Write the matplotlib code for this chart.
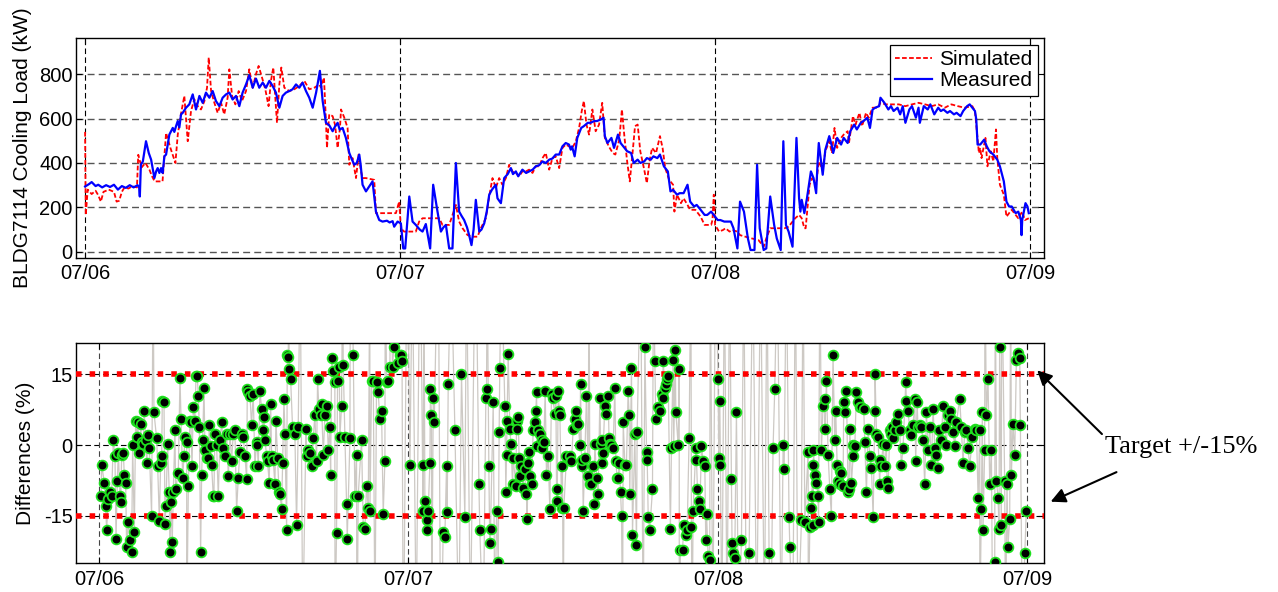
import numpy as np
import matplotlib
matplotlib.use("Agg")
import matplotlib.pyplot as plt

plt.rcParams['font.family'] = ['Liberation Sans', 'DejaVu Sans']
plt.rcParams['axes.unicode_minus'] = False

# ---------------- data ----------------
day_ticks = [0, 24, 48, 72]
day_labels = ['07/06', '07/07', '07/08', '07/09']
load_ticks = [0, 200, 400, 600, 800]
diff_ticks = [-15, 0, 15]
diff_tick_labels = ['-15', '0', '15']
target_band = [-15, 15]

# Measured cooling load (hours since 07/06 00:00, kW)
meas_h = [0.0,0.3,0.5,0.8,1.0,1.3,1.6,1.9,2.2,2.5,2.8,3.1,3.4,3.7,4.0,4.12,4.17,4.25,4.4,4.64,4.85,5.03,5.28,5.41,5.53,5.66,5.79,5.91,6.04,6.17,6.42,6.68,6.8,6.93,7.06,7.18,7.31,7.44,7.69,7.94,8.2,8.45,8.71,8.96,9.21,9.47,9.72,9.97,10.23,10.48,10.74,10.99,11.24,11.5,11.75,12.0,12.26,12.51,12.77,13.02,13.27,13.53,13.78,14.04,14.29,14.54,14.8,15.05,15.3,15.56,15.81,16.07,16.32,16.57,16.83,17.08,17.34,17.6,17.89,
          18.1,18.35,18.6,18.86,19.0,19.24,19.4,19.62,19.87,20.13,20.3,20.51,20.7,20.89,21.0,21.14,21.4,21.6,21.9,22.16,22.41,22.66,23.0,23.2,23.43,23.55,23.81,24.06,24.24,24.39,24.7,24.95,25.2,25.5,25.71,25.96,26.29,26.52,26.85,27.11,27.3,27.49,27.74,27.99,28.25,28.5,28.7,28.88,29.1,29.26,29.44,29.6,29.77,30.03,30.2,30.41,30.6,30.79,31.0,31.29,31.42,31.68,31.93,32.2,32.44,32.6,32.82,33.0,33.32,33.6,33.83,34.1,34.34,34.6,34.85,35.1,35.36,35.6,35.86,
          36.12,36.37,36.62,36.87,37.0,37.1,37.3,37.5,37.8,38.0,38.3,38.5,38.8,39.0,39.3,39.5,39.6,39.8,40.1,40.3,40.6,40.8,41.1,41.3,41.6,41.8,42.1,42.3,42.6,42.8,43.1,43.3,43.6,43.8,44.1,44.4,44.6,44.8,45.1,45.3,45.6,45.9,46.1,46.4,46.6,46.9,47.2,47.4,47.7,47.9,48.2,48.4,48.7,48.9,49.2,49.4,49.7,49.9,50.2,50.5,50.7,51.0,51.2,51.4,51.7,51.9,52.2,52.5,52.7,53.0,53.2,53.4,53.6,53.9,54.2,
          54.4,54.5,54.6,54.8,55.0,55.3,55.5,55.7,55.8,55.9,56.2,56.4,56.7,56.9,57.0,57.3,57.6,57.8,58.1,58.3,58.6,58.8,59.1,59.3,59.6,59.8,60.0,60.2,60.5,60.6,60.9,61.2,61.4,61.6,61.9,62.1,62.3,62.5,62.8,63.0,63.3,63.5,63.6,63.9,64.2,64.4,64.7,65.0,65.2,65.4,65.7,65.9,66.2,66.4,66.7,66.9,67.2,67.4,67.7,67.8,67.9,68.0,68.2,68.5,68.7,68.9,69.2,69.5,69.7,70.0,70.2,70.4,70.6,70.9,71.1,71.3,71.35,71.4,71.65,71.8,71.9]
meas_kw = [294,305,314,296,302,290,300,292,302,280,296,288,300,290,300,290,249,392,407,498,445,415,332,362,377,355,377,355,430,438,528,558,540,566,589,560,619,626,649,664,709,641,702,671,717,694,724,679,656,694,709,717,686,702,656,717,754,795,739,780,739,762,739,770,747,717,649,702,717,724,732,754,739,762,724,694,649,717,815,
           679,581,570,543,560,581,550,558,513,445,420,392,400,438,390,302,272,290,317,181,143,136,140,132,138,113,136,128,15,15,249,136,121,100,91,125,15,302,181,91,110,121,15,15,400,181,160,143,110,75,30,100,234,91,100,128,180,257,280,302,241,219,332,350,377,350,362,340,370,355,362,370,385,390,407,400,415,420,438,
           438,475,490,483,460,475,430,513,558,566,581,581,589,589,596,604,521,490,513,468,528,490,468,453,445,400,415,400,407,422,415,430,422,438,385,362,272,279,257,264,264,302,226,204,211,189,166,166,181,166,143,143,136,136,136,106,15,226,181,60,8,8,392,106,8,15,249,121,60,8,498,121,91,23,513,
           241,181,234,174,241,362,332,264,392,490,347,460,521,475,445,513,483,513,490,543,573,551,581,589,604,558,641,649,656,694,671,641,656,634,649,619,656,581,641,656,604,649,581,656,641,664,619,649,634,641,626,634,619,626,611,634,656,664,641,634,596,483,483,505,475,453,438,415,385,317,226,204,204,174,181,143,75,143,219,204,174]

# Simulated cooling load (hours, kW)
sim_h = [0,0.05,0.2,0.5,0.8,1.0,1.2,1.4,1.8,2.2,2.4,2.6,2.8,3.0,3.3,3.6,3.95,4.05,4.3,4.6,4.9,5.1,5.3,5.9,6.0,6.17,6.5,6.88,7.06,7.3,7.56,7.82,8.07,8.32,8.58,8.83,9.09,9.29,9.42,9.6,9.85,10.1,10.36,10.6,10.86,10.99,11.2,11.45,11.7,11.95,12.26,12.51,12.77,13.02,13.22,13.48,13.73,13.98,14.16,14.34,14.49,14.62,14.8,14.95,15.18,15.56,15.94,16.32,16.7,17.08,17.46,17.84,
         17.97,18.2,18.35,18.43,18.6,18.86,19.04,19.24,19.42,19.5,19.75,20.0,20.13,20.38,20.64,20.84,21.0,21.14,21.4,22.03,22.16,22.66,23.68,23.93,24.06,24.3,25.2,25.45,25.71,26.98,27.23,27.74,28.25,28.5,28.76,29.14,29.52,29.9,30.15,30.53,30.79,31.04,31.29,31.55,31.8,32.06,32.31,32.56,32.82,33.07,33.32,33.58,33.83,34.09,34.34,34.6,34.85,35.1,35.36,35.61,35.86,
         36.12,36.37,36.62,36.87,37.13,37.39,37.64,37.84,38.0,38.2,38.4,38.65,38.9,39.16,39.4,39.6,39.9,40.2,40.4,40.7,40.9,41.1,41.3,41.5,41.7,41.9,42.1,42.3,42.6,42.8,43.0,43.2,43.5,43.8,44.0,44.2,44.5,44.8,44.9,45.1,45.4,45.6,45.9,46.1,46.5,46.9,47.2,47.7,47.8,47.9,48.0,48.3,48.6,48.8,49.1,49.3,49.7,49.9,50.3,50.8,51.3,51.7,51.9,52.2,52.5,53.3,53.6,53.8,54.1,
         54.4,54.6,54.8,54.9,55.2,55.4,55.7,55.9,56.2,56.4,56.7,56.9,57.1,57.3,57.6,57.8,58.1,58.2,58.5,58.7,59.0,59.2,59.5,59.7,60.0,60.4,60.6,61.0,61.5,62.0,62.5,63.0,63.5,64.0,64.5,65.0,65.5,66.0,66.5,67.0,67.6,67.8,68.1,68.2,68.3,68.6,68.75,69.0,69.2,69.4,69.5,69.7,70.0,70.2,70.4,70.6,70.9,71.1,71.4,71.6,71.9]
sim_kw = [540,165,280,260,275,255,226,270,280,270,226,230,270,290,285,295,290,437,380,400,370,340,317,317,400,535,468,400,528,619,702,498,634,687,656,641,679,739,875,724,671,626,671,619,694,822,702,664,724,679,724,822,739,800,837,785,732,656,770,830,694,581,754,830,739,724,732,747,770,732,739,754,
          740,785,589,468,619,611,573,468,558,641,604,558,392,422,332,438,370,332,332,324,174,174,174,226,106,91,91,136,151,151,121,121,211,136,106,75,68,68,106,151,249,332,287,332,302,332,392,362,355,340,362,362,370,355,385,385,422,445,370,422,430,
          377,468,483,475,468,498,558,634,679,573,528,641,543,573,671,513,475,445,438,505,641,513,407,317,438,566,573,453,370,309,407,468,445,521,468,377,324,302,181,257,219,241,211,189,189,158,121,121,143,257,121,91,98,106,91,98,91,75,68,60,53,23,60,106,106,106,113,128,151,
          166,151,106,106,302,332,302,407,370,453,498,445,558,468,513,528,543,490,611,573,626,566,626,604,649,649,671,664,664,664,656,664,671,664,656,664,649,664,656,649,656,634,445,468,422,513,385,453,407,551,422,302,257,158,174,189,166,151,181,143,151]

# Differences between simulated and measured (hours, %)
diff_h = [0.16,0.21,0.41,0.52,0.59,0.72,0.85,0.98,1.11,1.24,1.32,1.42,1.50,1.63,1.68,1.76,1.89,1.96,2.07,2.14,2.27,2.40,2.53,2.61,2.74,2.84,2.92,3.00,3.13,3.23,3.31,3.44,3.49,3.64,3.70,3.82,3.90,4.08,4.26,4.47,4.55,4.68,4.78,4.86,4.91,5.04,5.12,5.19,5.32,5.45,5.50,5.58,5.68,5.76,5.89,5.94,6.15,6.28,6.36,6.49,6.59,6.67,6.80,6.93,7.05,7.13,7.21,7.31,7.44,7.52,7.62,7.70,7.78,7.88,7.96,8.04,8.14,8.22,8.35,8.48,8.55,8.66,8.73,8.86,8.91,8.99,9.12,9.25,9.38,9.51,9.64,9.77,9.90,10.03,10.16,10.28,10.41,10.54,10.67,10.80,10.93,11.06,11.19,11.32,11.45,11.50,11.58,11.71,11.83,11.96,12.09,12.22,12.27,12.35,12.48,12.61,12.69,12.79,12.87,13.00,13.07,13.20,13.31,13.39,13.51,13.64,13.72,13.85,13.96,14.03,14.16,14.24,14.34,14.42,14.55,14.60,14.68,14.75,14.86,15.01,15.19,15.32,15.45,16.05,16.10,16.23,16.36,16.49,16.61,16.74,16.87,16.95,17.05,17.18,17.26,17.39,17.52,17.65,17.78,17.91,17.96,18.04,18.17,18.29,18.42,18.50,18.63,18.68,18.81,18.94,19.07,19.20,19.25,19.46,19.72,19.84,19.97,20.10,20.36,20.49,20.62,20.75,20.88,21.01,21.14,21.27,21.52,21.65,21.78,21.91,22.04,22.17,22.30,22.43,22.56,22.76,22.87,23.20,23.33,23.40,23.50,24.11,
          25.09,25.14,25.27,25.40,25.45,25.53,25.66,25.70,25.78,25.92,26.00,26.69,26.82,26.95,27.00,27.08,27.60,28.11,28.37,29.46,29.53,30.00,30.05,30.23,30.30,30.36,30.57,30.83,30.96,31.03,31.08,31.47,31.55,31.60,31.65,31.73,31.86,31.94,32.07,32.12,32.33,32.38,32.43,32.51,32.58,32.64,32.76,32.89,33.02,33.15,33.20,33.28,33.36,33.46,33.54,33.67,33.80,33.88,33.93,33.98,34.06,34.19,34.32,34.39,34.50,34.60,34.70,34.83,34.96,35.09,35.17,35.35,35.43,35.48,35.53,35.61,35.69,35.74,35.87,35.94,36.05,36.25,36.51,36.64,36.77,36.90,36.98,37.03,37.16,37.29,37.34,37.42,37.49,37.55,37.67,37.80,37.93,38.06,38.19,38.27,38.37,38.45,38.58,38.71,38.84,38.89,38.97,39.04,39.09,39.22,39.35,39.48,39.55,39.66,39.74,39.87,40.00,40.08,40.18,40.26,40.34,40.44,40.52,40.65,40.78,40.90,41.03,41.11,41.16,41.29,41.37,41.55,41.68,41.73,42.33,42.46,42.51,42.59,42.71,42.92,43.10,43.18,43.36,43.49,43.62,43.70,43.75,43.88,43.95,44.01,44.13,44.31,44.39,44.52,44.57,44.68,44.73,44.91,44.99,45.09,45.25,45.35,45.50,45.61,45.76,45.94,46.07,46.28,46.33,46.41,46.49,46.59,46.72,46.85,46.98,47.05,47.11,47.24,47.36,48.01,48.06,48.14,48.19,49.04,49.09,49.17,49.30,49.43,49.82,50.41,51.96,52.27,52.40,53.05,53.13,53.51,53.57,
          54.47,54.73,54.99,55.12,55.25,55.28,55.35,55.37,55.40,55.50,55.63,55.76,55.80,56.02,56.15,56.28,56.30,56.41,56.54,56.67,56.79,56.92,57.05,57.13,57.24,57.31,57.44,57.49,57.57,57.70,57.75,57.83,57.96,58.09,58.16,58.22,58.35,58.48,58.50,58.61,58.73,58.86,58.99,59.12,59.30,59.38,59.51,59.64,59.77,59.90,60.03,60.16,60.18,60.29,60.41,60.54,60.59,60.67,60.80,60.93,61.06,61.11,61.19,61.32,61.45,61.52,61.58,61.71,61.83,61.96,62.09,62.22,62.35,62.56,62.61,62.74,62.87,63.00,63.13,63.26,63.33,63.44,63.51,63.64,63.77,63.90,64.03,64.16,64.29,64.42,64.55,64.68,64.81,64.93,65.06,65.14,65.32,65.45,65.58,65.71,65.84,65.97,66.10,66.23,66.36,66.49,66.74,66.87,67.00,67.13,67.26,67.39,67.52,67.73,67.91,68.04,68.17,68.30,68.42,68.50,68.55,68.68,68.81,68.94,69.07,69.20,69.46,69.59,69.72,69.79,69.84,69.97,70.23,70.41,70.49,70.62,70.75,70.88,71.01,71.14,71.27,71.40,71.45,71.79,71.91]
diff_pct = [-10.8,-4.2,-8.0,-12.9,-18.1,-11.5,-10.1,-10.8,1.0,-2.4,-19.9,-7.7,-1.7,-10.8,-12.2,-2.1,-1.7,-6.3,-8.0,-21.6,-16.4,-20.2,-22.7,0.0,-18.5,5.2,1.7,4.9,-1.7,4.5,0.7,0.3,7.3,1.0,-3.8,2.1,-0.7,-15.0,7.0,1.4,-4.5,-16.1,-3.8,-2.4,9.4,9.1,-16.7,-12.9,0.3,-10.1,-22.7,-12.2,-20.6,-10.1,3.1,-9.4,-5.9,14.3,5.6,-7.0,-2.4,1.7,0.7,-8.7,5.2,4.9,-4.5,8.0,5.2,14.7,14.7,10.5,3.8,-22.7,-6.3,1.0,12.2,-1.0,-2.8,-2.8,4.2,-0.3,-4.2,-10.8,-10.8,2.4,0.0,-10.8,1.0,4.9,-0.7,-2.4,2.4,-6.6,2.4,-3.5,2.4,3.1,-14.0,-7.0,-1.4,2.4,1.7,-2.4,-7.3,11.9,11.2,10.5,4.2,10.8,-4.5,0.7,0.0,-4.5,11.5,7.7,3.1,5.9,1.0,-2.4,-3.5,-8.0,8.7,-2.4,-3.1,-8.4,5.2,-2.8,-10.1,-10.5,-13.6,-3.8,9.8,2.4,-18.1,19.2,18.8,16.1,14.0,3.8,2.4,-17.1,3.8,3.5,-2.4,-1.0,-1.7,-4.5,1.4,6.3,-3.5,14.0,7.7,6.3,8.7,-2.1,6.3,8.4,-1.0,3.8,-6.3,18.5,15.7,13.3,-18.8,13.6,16.7,1.7,8.4,17.1,1.7,-12.6,-19.9,1.4,19.2,-10.8,-2.1,-10.8,1.0,-17.4,-17.8,-8.7,-13.3,-14.0,13.6,13.6,13.3,11.2,5.6,7.3,-14.7,-3.5,13.3,13.6,16.7,16.7,20.9,17.4,19.2,19.2,17.8,-4.2,
            -4.2,-14.0,-11.9,-16.0,-18.1,-14.0,-3.8,11.9,6.3,10.1,4.9,-18.5,-19.5,-4.5,-14.3,12.9,3.1,15.0,-15.4,-8.4,-18.1,10.1,11.9,-4.5,-20.9,-17.8,9.1,-14.0,-24.8,2.8,16.4,8.4,-10.1,-2.1,5.2,19.3,3.5,0.3,-8.4,-2.8,-8.7,5.2,3.5,5.9,-2.8,-6.6,-4.5,-9.1,-5.2,-10.5,-15.7,-3.8,-1.4,-6.6,-8.4,3.1,4.9,7.3,11.2,-0.3,3.1,2.4,1.0,-0.7,0.7,11.5,-6.3,-2.4,-13.6,10.8,10.1,6.6,10.5,-9.4,-11.9,11.5,7.3,6.3,-13.3,-4.4,-13.3,-2.4,-2.4,-3.5,3.5,5.6,7.3,4.2,4.5,0.0,12.9,-4.5,-3.1,-14.0,-2.8,10.5,-6.6,-8.4,-8.4,-4.5,-12.6,0.3,-7.0,-10.5,10.1,0.3,1.0,-3.8,-1.7,8.4,6.6,10.5,1.4,0.3,0.0,-0.7,12.2,-3.5,-7.0,-7.0,-3.8,-10.1,-15.0,4.9,-4.2,-4.2,11.5,6.3,-10.5,16.4,-19.2,2.4,-21.3,2.8,20.9,-1.4,-3.1,-15.4,-18.1,-9.4,17.8,5.6,8.0,7.3,10.8,10.1,17.8,12.2,12.9,14.0,14.7,-17.8,-0.7,18.1,-0.3,20.2,7.0,0.0,16.1,-22.3,-22.3,-17.1,-19.2,-18.1,1.4,-17.4,-14.0,-0.7,-3.1,-9.4,-11.9,-13.6,-0.3,-3.5,-4.5,-20.2,-14.7,-23.7,-24.4,14.0,-2.8,9.4,-4.2,-7.3,-20.9,-23.0,-24.1,7.0,-20.2,-23.0,-23.0,-0.7,11.9,0.0,-5.2,-15.4,-21.6,
            -16.0,-16.4,-1.4,-17.4,-13.3,-10.8,-4.2,-17.1,-1.0,-6.3,-8.0,-10.8,-16.4,-1.0,8.4,9.8,3.5,13.6,-2.1,-9.4,-15.0,19.2,1.0,7.3,-4.2,-7.7,-8.4,-5.6,-5.9,-8.7,9.1,7.0,11.5,-10.1,-9.4,3.5,-8.0,-2.4,0.0,-0.3,11.2,9.1,8.0,8.0,7.7,0.7,-10.1,3.5,-2.4,-4.9,-15.4,7.3,15.0,2.4,1.7,-8.4,-3.1,-4.5,0.3,-4.5,0.0,-7.7,-9.1,3.1,2.4,3.8,1.4,3.1,4.9,6.6,3.1,-4.2,-0.7,13.3,9.4,7.3,3.1,2.1,4.2,9.8,-3.5,9.1,3.8,4.2,3.8,1.0,-8.4,7.0,-1.0,3.8,-4.2,7.7,-0.7,-2.1,-4.9,3.1,1.0,8.4,3.8,0.0,6.3,7.3,5.6,2.8,-0.3,4.9,9.8,3.8,-3.8,2.8,3.1,-0.7,-4.5,1.7,3.5,3.1,-11.2,3.1,-13.6,7.0,-18.1,-1.0,6.3,14.0,-8.4,-1.0,-24.8,-7.7,-11.2,-17.8,20.9,-17.1,-7.7,-8.4,-21.6,-15.7,-6.3,4.5,-2.1,18.1,19.5,18.5,4.2,-23.0,-14.0]

# Night-time differences that fall outside the plotted range
off_h = [4.2,6.8,14.7,15.6,15.8,18.3,18.9,19.5,20.0,21.0,21.4,22.2,22.6,23.0,23.6,23.9,24.3,24.6,24.9,25.2,25.8,26.3,26.5,27.3,27.9,28.5,28.8,29.2,29.8,30.1,30.7,31.2,36.0,38.0,40.6,42.0,42.2,43.0,45.0,45.9,46.0,47.4,47.6,47.8,48.3,48.5,48.7,48.9,49.6,50.0,50.2,50.7,51.0,51.3,51.6,51.8,52.1,52.6,52.9,53.3,53.8,54.0,54.2,54.6,55.0,55.9,68.3,68.7,69.3,69.5,70.0,70.3,70.7,71.6]
off_pct = [40,-40,40,40,-40,-40,40,50,-50,40,-40,40,40,50,-50,50,40,-40,50,40,-40,50,-50,40,-40,40,-40,50,-40,40,-40,40,-40,40,-40,40,-40,40,-40,40,-40,40,-40,40,-40,40,-40,40,-40,40,-40,40,-40,40,-40,40,-40,40,-40,40,-40,40,-40,40,-40,40,-40,40,-40,40,40,-40,40,-40]

# ---------------- figure ----------------
fig = plt.figure(figsize=(12.78, 5.92), dpi=100)
ax1 = fig.add_axes([0.0595, 0.5642, 0.7574, 0.3716])
ax2 = fig.add_axes([0.0595, 0.0490, 0.7574, 0.3716])

TICK_FS = 14.5
LABEL_FS = 15

# Top panel
ax1.plot(sim_h, sim_kw, color='#ff0000', lw=1.3, ls=(0, (2.6, 1.3)), label='Simulated', zorder=3)
ax1.plot(meas_h, meas_kw, color='#0000ff', lw=1.6, label='Measured', zorder=4)
ax1.set_xlim(-0.69, 73.06)
ax1.set_ylim(-28, 963)
ax1.set_xticks(day_ticks)
ax1.set_xticklabels(day_labels)
ax1.set_yticks(load_ticks)
ax1.set_ylabel('BLDG7114 Cooling Load (kW)', fontsize=LABEL_FS, labelpad=5)
for y in load_ticks:
    ax1.axhline(y, color='#555555', lw=1.0, ls=(0, (5, 3)), zorder=1)
for x in day_ticks:
    ax1.axvline(x, color='black', lw=0.8, ls=(0, (5, 3)), zorder=1)
leg = ax1.legend(loc='upper right', bbox_to_anchor=(0.9938, 0.968), borderaxespad=0,
                 fontsize=LABEL_FS, frameon=True, fancybox=False, framealpha=1,
                 edgecolor='black', handlelength=1.8, handletextpad=0.35,
                 borderpad=0.25, labelspacing=0.1)
leg.get_frame().set_linewidth(0.9)

# Bottom panel
ds = np.array(diff_h + off_h)
dp = np.array(diff_pct + off_pct)
order = np.argsort(ds, kind='stable')
ax2.plot(ds[order], dp[order], color='#cdc9c4', lw=0.9, zorder=2)
for t in target_band:
    ax2.axhline(t, color='#ff0000', lw=4, ls=(0, (1, 1.45)), dash_capstyle='butt', zorder=3)
ax2.plot(diff_h, diff_pct, ls='none', marker='o', ms=7, mfc='black', mec='#1ee01e', mew=1.3, zorder=4)
ax2.set_xlim(-1.78, 73.28)
ax2.set_ylim(-25.1, 21.7)
ax2.set_xticks(day_ticks)
ax2.set_xticklabels(day_labels)
ax2.set_yticks(diff_ticks)
ax2.set_yticklabels(diff_tick_labels)
ax2.set_ylabel('Differences (%)', fontsize=LABEL_FS, labelpad=6)
for y in diff_ticks:
    ax2.axhline(y, color='black', lw=0.8, ls=(0, (5, 3)), zorder=1)
for x in day_ticks:
    ax2.axvline(x, color='#444444', lw=0.8, ls=(0, (5, 3)), zorder=1)

for ax in (ax1, ax2):
    ax.tick_params(direction='in', top=True, right=True, length=4, width=0.8,
                   labelsize=TICK_FS, pad=2.5)
    for s in ax.spines.values():
        s.set_linewidth(1.0)
        s.set_color('black')
ax1.tick_params(axis='x', pad=4.5)
ax2.tick_params(axis='x', pad=5)

# Annotation
fig.text(0.8646, 0.2449, 'Target +/-15%', fontsize=19, family=['Liberation Serif', 'DejaVu Serif'],
         ha='left', va='center')
arrow = dict(arrowstyle='-|>', color='black', lw=1.5, mutation_scale=22)
ax2.annotate('', xy=(72.6, 16.3), xycoords='data', xytext=(0.8638, 0.2635),
             textcoords='figure fraction', arrowprops=arrow, annotation_clip=False)
ax2.annotate('', xy=(73.6, -12.3), xycoords='data', xytext=(0.8756, 0.2044),
             textcoords='figure fraction', arrowprops=arrow, annotation_clip=False)

fig.savefig('out.png', dpi=100)
